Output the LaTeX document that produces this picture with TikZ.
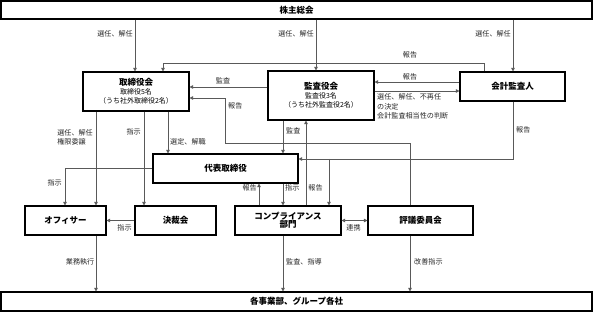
\documentclass[tikz,border=0pt]{standalone}
\usepackage{fontspec}
\setmainfont{Noto Sans CJK JP}
\usetikzlibrary{arrows.meta}
\begin{document}
\begin{tikzpicture}[x=1pt,y=-1pt,
  box/.style={draw=black,line width=1.1pt,fill=white,inner sep=0pt,align=center,font=\fontsize{8.5}{10}\selectfont\bfseries},
  wide/.style={box,minimum width=591pt},
  conn/.style={draw=black!65,line width=0.8pt,-{Triangle[length=3.5pt,width=3.5pt]}},
  conn2/.style={draw=black!65,line width=0.8pt,{Triangle[length=3.5pt,width=3.5pt]}-{Triangle[length=3.5pt,width=3.5pt]}},
  lab/.style={inner sep=0pt,font=\fontsize{7.1}{9.5}\selectfont,text=black!85}]
\useasboundingbox (0,0) rectangle (594,312);
% boxes
\node[wide,minimum height=18pt] (top) at (296.5,10) {株主総会};
\node[wide,minimum height=19pt] (bot) at (296.5,301.5) {各事業部、グループ各社};
\node[box,minimum width=106pt,minimum height=39pt] (tori) at (136,91.5)
  {取締役会\\[-1pt]{\fontsize{7}{9.5}\selectfont\mdseries 取締役5名}\\[-1pt]{\fontsize{7}{9.5}\selectfont\mdseries （うち社外取締役2名）}};
\node[box,minimum width=106pt,minimum height=49pt] (kansa) at (321,95.5)
  {監査役会\\[-1pt]{\fontsize{7}{9.5}\selectfont\mdseries 監査役3名}\\[-1pt]{\fontsize{7}{9.5}\selectfont\mdseries （うち社外監査役2名）}};
\node[box,minimum width=105pt,minimum height=29pt] (kaikei) at (512.5,86.5) {会計監査人};
\node[box,minimum width=145pt,minimum height=29pt] (daihyo) at (225.5,168.5) {代表取締役};
\node[box,minimum width=81pt,minimum height=29pt] (officer) at (65.5,220.5) {オフィサー};
\node[box,minimum width=81pt,minimum height=29pt] (kessai) at (175.5,220.5) {決裁会};
\node[box,minimum width=106pt,minimum height=29pt] (comp) at (288,220.5) {コンプライアンス\\[-2pt]部門};
\node[box,minimum width=105pt,minimum height=29pt] (hyogi) at (420.5,220.5) {評議委員会};
% shareholders
\draw[conn] (135,0 |- top.south) -- (135,0 |- tori.north);
\node[lab,anchor=east] (l1) at (133,34) {選任、解任};
\draw[conn] (316,0 |- top.south) -- (316,0 |- kansa.north);
\node[lab,anchor=east] (l2) at (314,34) {選任、解任};
\draw[conn] (513,0 |- top.south) -- (513,0 |- kaikei.north);
\node[lab,anchor=east] (l3) at (511,34) {選任、解任};
% kaikei -> tori
\draw[conn] (484,0 |- kaikei.north) -- (484,63) -- (163,63) -- (163,0 |- tori.north);
\node[lab] (l4) at (410,55) {報告};
% kansa -> tori
\draw[conn] (kansa.west |- 0,87) -- (tori.east |- 0,87);
\node[lab] (l5) at (223,81) {監査};
% hyogi -> tori
\draw[conn] (410,0 |- hyogi.north) -- (410,143) -- (225,143) -- (225,98) -- (tori.east |- 0,98);
\node[lab,anchor=west] (l6) at (228,106) {報告};
% kaikei <-> kansa
\draw[conn] (kaikei.west |- 0,82) -- (kansa.east |- 0,82);
\node[lab] (l7) at (410,77) {報告};
\draw[conn] (kansa.east |- 0,91) -- (kaikei.west |- 0,91);
\node[lab,anchor=north west,align=left] (l8) at (377,93.5) {選任、解任、不再任\\の決定\\会計監査相当性の判断};
% kaikei -> daihyo
\draw[conn] (513,0 |- kaikei.south) -- (513,159) -- (daihyo.east |- 0,159);
\node[lab,anchor=west] (l9) at (516,130) {報告};
\coordinate (j1) at (329,159);
\draw[conn] (j1) -- (j1 |- comp.north);
\node[lab] (l10) at (315.5,188) {報告};
% tori -> daihyo
\draw[conn] (168,0 |- tori.south) -- (168,0 |- daihyo.north);
\node[lab,anchor=west] (l11) at (170,142) {選定、解職};
% kansa -> daihyo
\draw[conn] (283,0 |- kansa.south) -- (283,0 |- daihyo.north);
\node[lab,anchor=west] (l12) at (286,130.5) {監査};
% comp -> kansa
\draw[conn] (306,0 |- comp.north) -- (306,0 |- kansa.south);
% comp <-> daihyo
\draw[conn] (259,0 |- comp.north) -- (259,0 |- daihyo.south);
\node[lab,anchor=east] (l13) at (257,188) {報告};
\draw[conn] (283,0 |- daihyo.south) -- (283,0 |- comp.north);
\node[lab,anchor=west] (l14) at (285,188) {指示};
% tori -> officer, kessai
\draw[conn] (96,0 |- tori.south) -- (96,0 |- officer.north);
\node[lab,anchor=east,align=left] (l15) at (93,137.5) {選任、解任\\権限委譲};
\draw[conn] (144,0 |- tori.south) -- (144,0 |- kessai.north);
\node[lab,anchor=east] (l16) at (141,132) {指示};
% daihyo -> officer
\draw[conn] (daihyo.west |- 0,168) -- (65,168) -- (65,0 |- officer.north);
\node[lab,anchor=east] (l17) at (62,183) {指示};
% kessai -> officer
\draw[conn] (kessai.west) -- (officer.east);
\node[lab] (l18) at (124.5,228) {指示};
% comp <-> hyogi
\draw[conn2] (comp.east) -- (hyogi.west);
\node[lab] (l19) at (353.5,228) {連携};
% to bottom
\draw[conn] (96,0 |- officer.south) -- (96,0 |- bot.north);
\node[lab,anchor=east] (l20) at (94.5,262) {業務執行};
\draw[conn] (283,0 |- comp.south) -- (283,0 |- bot.north);
\node[lab,anchor=west] (l21) at (286,262) {監査、指導};
\draw[conn] (410,0 |- hyogi.south) -- (410,0 |- bot.north);
\node[lab,anchor=west] (l22) at (414,262) {改善指示};
\end{tikzpicture}
\end{document}
